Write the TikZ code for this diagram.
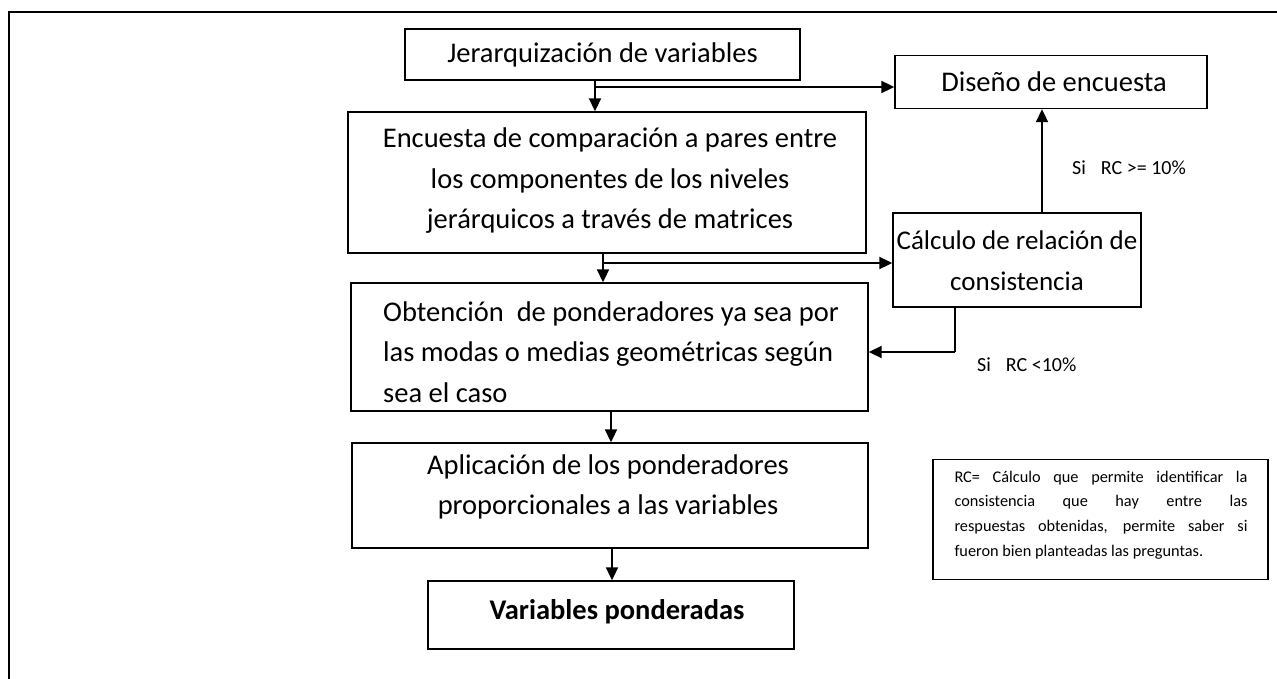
\documentclass[tikz,border=0pt]{standalone}
\usepackage{fontspec}
\setmainfont{Carlito}
\usetikzlibrary{arrows.meta,calc}
\begin{document}
\begin{tikzpicture}[x=1pt,y=-1pt,
  box/.style={draw,line width=1.4pt,rectangle,inner sep=0pt},
  txt/.style={inner sep=0pt,align=center,font=\fontsize{28.5}{40.5}\selectfont},
  note/.style={draw,line width=1.6pt,rectangle,inner sep=0pt},
  notetxt/.style={inner sep=0pt,text width=293pt,align=justify,font=\fontsize{16.3}{24.8}\selectfont},
  lbl/.style={inner sep=0pt,font=\fontsize{20}{22}\selectfont},
  ln/.style={line width=2pt},
  arr/.style={line width=2pt,-{Triangle[length=13pt,width=12pt]}}]
\useasboundingbox (0,0) rectangle (1277,679);
\fill[white] (0,0) rectangle (1277,679);
% frame
\draw[line width=2pt] (9,679) -- (9,12) -- (1277,12);
% boxes
\node[box,minimum width=395pt,minimum height=51pt] (b1) at (602.5,54.5) {};
\node[txt] (b1t) at (602.5,54.5) {Jerarquización de variables};
\node[box,minimum width=312pt,minimum height=53pt] (dis) at (1051,82) {};
\node[txt] (dist) at (1054,82) {Diseño de encuesta};
\node[box,minimum width=518pt,minimum height=141pt] (b2) at (607,182.5) {};
\node[txt] (b2t) at (610,181) {Encuesta de comparación a pares entre\\los componentes de los niveles\\jerárquicos a través de matrices};
\node[box,minimum width=248pt,minimum height=94pt] (cal) at (1017,260) {};
\node[txt,font=\fontsize{27}{41}\selectfont] (calt) at (1017,261) {Cálculo de relación de\\consistencia};
\node[box,minimum width=517pt,minimum height=128pt] (b3) at (609.5,347) {};
\node[txt,align=left,anchor=west] (b3t) at (383,352) {Obtención\ \ de ponderadores ya sea por\\las modas o medias geométricas según\\sea el caso};
\node[box,minimum width=516pt,minimum height=105pt] (b4) at (610,495.5) {};
\node[txt] (b4t) at (608,487) {Aplicación de los ponderadores\\proporcionales a las variables};
\node[box,minimum width=366pt,minimum height=68pt] (b5) at (611,615) {};
\node[txt,font=\fontsize{28.5}{34}\selectfont\bfseries] (b5t) at (617,612) {Variables ponderadas};
\node[note,minimum width=335pt,minimum height=120pt] (rc) at (1100.5,519.5) {};
\node[notetxt] (rct) at (1101,515) {RC= Cálculo que permite identificar la\linebreak consistencia que hay entre las\linebreak respuestas obtenidas, permite saber si\linebreak fueron bien planteadas las preguntas.};
% labels
\node[lbl,anchor=west] (l1) at (1072,168) {Si\hspace{0.75em}RC >= 10\%};
\node[lbl,anchor=west] (l2) at (977,365) {Si\hspace{0.75em}RC <10\%};
% connectors
\coordinate (j1) at (595,87);
\coordinate (j2) at (603,263);
\coordinate (j3) at (955,352);
\coordinate (u) at (1042,0);
\coordinate (k1) at (611,0);
\coordinate (k2) at (612,0);
\draw[ln] (b1.south -| j1) -- (j1);
\draw[arr] (j1) -- (j1 |- b2.north);
\draw[arr] (j1) -- (j1 -| dis.west);
\draw[ln] (b2.south -| j2) -- (j2);
\draw[arr] (j2) -- (j2 |- b3.north);
\draw[arr] (j2) -- (j2 -| cal.west);
\draw[arr] (cal.north -| u) -- (dis.south -| u);
\draw[ln] (cal.south -| j3) -- (j3);
\draw[arr] (j3) -- (j3 -| b3.east);
\draw[arr] (b3.south -| k1) -- (b4.north -| k1);
\draw[arr] (b4.south -| k2) -- (b5.north -| k2);
\end{tikzpicture}
\end{document}
